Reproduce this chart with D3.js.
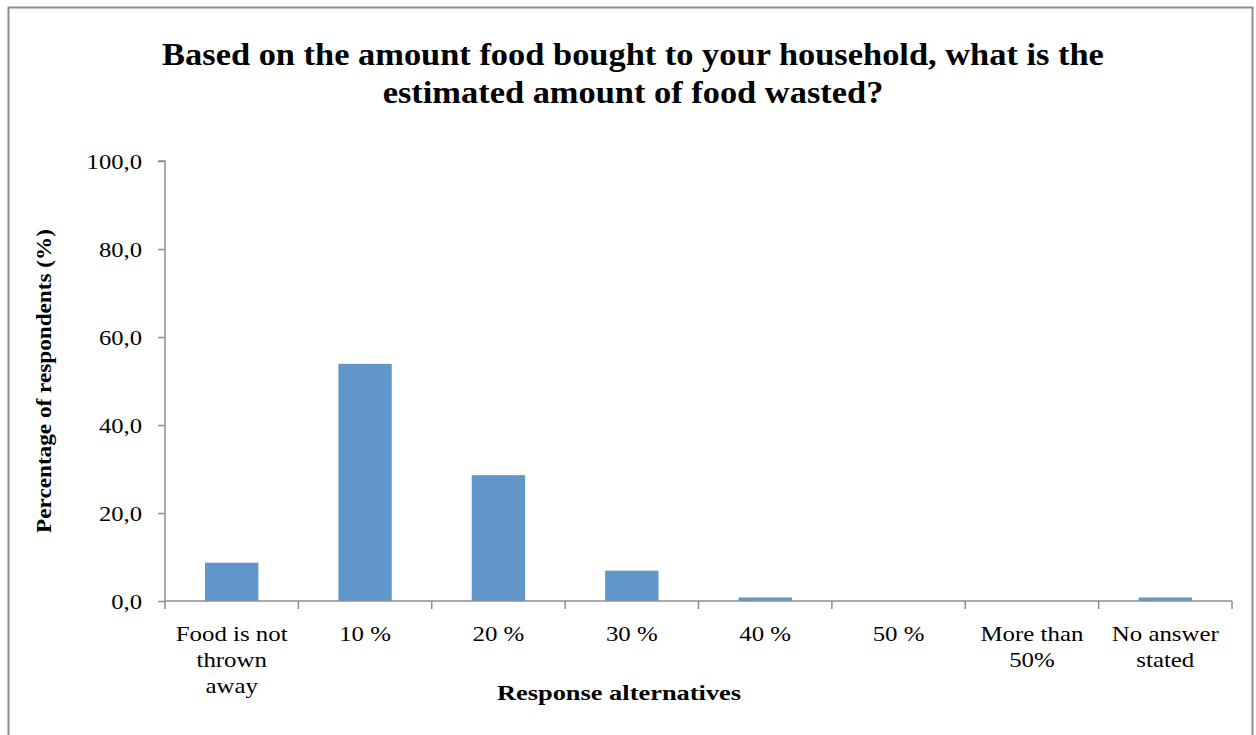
<!DOCTYPE html>
<html>
<head>
<meta charset="utf-8">
<script src="https://cdn.jsdelivr.net/npm/d3@7"></script>
<style>
  html, body { margin: 0; padding: 0; background: #fff; }
  svg { display: block; }
</style>
</head>
<body>
<svg id="chart" width="1256" height="735"></svg>
<script>
// Survey responses: estimated share of bought food that is wasted
const categories = [
  ["Food is not", "thrown", "away"],
  ["10 %"],
  ["20 %"],
  ["30 %"],
  ["40 %"],
  ["50 %"],
  ["More than", "50%"],
  ["No answer", "stated"]
];
const values = [8.7, 53.9, 28.6, 6.9, 0.8, 0, 0, 0.8];
const yTicks = [0, 20, 40, 60, 80, 100];
const titleLines = [
  "Based on the amount food bought to your household, what is the",
  "estimated amount of food wasted?"
];

const font = "'Liberation Serif', 'DejaVu Serif', serif";
const axisColor = "#8e8e8e";
const barColor = "#6096ca";

// The serif face in use is narrower than the chart's original typeface,
// so text is widened a little horizontally.
function widen(sel, factor) {
  sel.each(function() {
    const len = this.getComputedTextLength();
    d3.select(this)
      .attr("textLength", len * factor)
      .attr("lengthAdjust", "spacingAndGlyphs");
  });
}

const svg = d3.select("#chart");

// Outer frame around the chart area
svg.append("rect")
  .attr("x", 8.5).attr("y", 7.5)
  .attr("width", 1244).attr("height", 740)
  .attr("fill", "none")
  .attr("stroke", axisColor)
  .attr("stroke-width", 2);

const plot = { left: 165, right: 1232, top: 161, bottom: 601 };

const x = d3.scaleBand()
  .domain(d3.range(categories.length))
  .range([plot.left, plot.right])
  .paddingInner(0.6)
  .paddingOuter(0.3);

const y = d3.scaleLinear()
  .domain([0, 100])
  .range([plot.bottom, plot.top]);

// Bars
svg.append("g")
  .selectAll("rect")
  .data(values)
  .join("rect")
  .attr("x", (d, i) => x(i))
  .attr("y", d => y(d))
  .attr("width", x.bandwidth())
  .attr("height", d => y(0) - y(d))
  .attr("fill", barColor);

// Y axis
const yAxis = svg.append("g")
  .attr("transform", `translate(${plot.left},0)`)
  .call(d3.axisLeft(y)
    .tickValues(yTicks)
    .tickSize(7)
    .tickPadding(16)
    .tickFormat(d => d3.format(".1f")(d).replace(".", ",")));
yAxis.select(".domain")
  .attr("d", `M-7,${plot.top}H0V${plot.bottom}`)
  .attr("stroke", axisColor).attr("stroke-width", 1.5);
yAxis.selectAll(".tick line").attr("stroke", axisColor).attr("stroke-width", 1.5);
yAxis.selectAll(".tick text")
  .attr("font-family", font).attr("font-size", 22).attr("fill", "#000")
  .call(widen, 1.12);

// X axis: line with tick marks at category boundaries
const bounds = d3.range(categories.length + 1)
  .map(i => plot.left + i * (plot.right - plot.left) / categories.length);
const xAxis = svg.append("g");
xAxis.append("line")
  .attr("x1", plot.left).attr("x2", plot.right)
  .attr("y1", plot.bottom).attr("y2", plot.bottom)
  .attr("stroke", axisColor).attr("stroke-width", 1.5);
xAxis.selectAll("line.tk")
  .data(bounds)
  .join("line")
  .attr("class", "tk")
  .attr("x1", d => d).attr("x2", d => d)
  .attr("y1", plot.bottom).attr("y2", plot.bottom + 8)
  .attr("stroke", axisColor).attr("stroke-width", 1.5);

// Category labels, one text per line so each can be widened on its own
categories.forEach((lines, i) => {
  const cx = x(i) + x.bandwidth() / 2;
  xAxis.selectAll(null)
    .data(lines)
    .join("text")
    .attr("x", cx)
    .attr("y", (d, j) => 641 + j * 26)
    .attr("text-anchor", "middle")
    .attr("font-family", font)
    .attr("font-size", 22)
    .attr("fill", "#000")
    .text(d => d)
    .call(widen, 1.13);
});

// Axis titles
svg.append("text")
  .attr("x", 619).attr("y", 700)
  .attr("text-anchor", "middle")
  .attr("font-family", font).attr("font-weight", "bold").attr("font-size", 22)
  .text("Response alternatives")
  .call(widen, 1.2);

svg.append("text")
  .attr("transform", "translate(51,381) rotate(-90)")
  .attr("text-anchor", "middle")
  .attr("font-family", font).attr("font-weight", "bold").attr("font-size", 20)
  .text("Percentage of respondents (%)")
  .call(widen, 1.16);

// Chart title
svg.append("g")
  .selectAll("text")
  .data(titleLines)
  .join("text")
  .attr("x", 633)
  .attr("y", (d, i) => 65 + i * 38)
  .attr("text-anchor", "middle")
  .attr("font-family", font).attr("font-weight", "bold").attr("font-size", 32)
  .text(d => d)
  .call(widen, 1.075);
</script>
</body>
</html>
